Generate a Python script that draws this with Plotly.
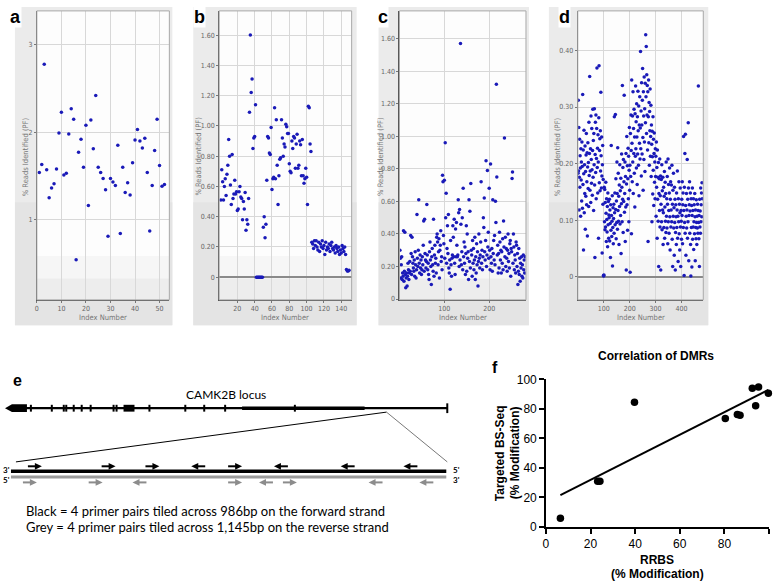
import plotly.graph_objects as go
import numpy as np

W, H = 778, 588

# ---------------- data ----------------
a_pct = [1.54,1.63,2.78,1.57,1.25,1.36,1.41,1.58,1.99,2.23,1.51,1.53,1.98,2.27,2.15,0.54,1.77,1.92,1.60,2.08,
         1.16,2.14,1.81,2.42,1.60,1.54,1.47,1.34,0.81,1.47,1.43,1.39,1.85,0.84,1.60,1.31,1.42,1.28,1.65,1.91,
         2.03,1.90,1.82,1.93,1.54,0.87,1.39,1.79,2.15,1.62,1.38,1.40]
a_index = list(range(1, len(a_pct) + 1))

b_pct = [0.51,0.71,0.63,0.51,0.60,0.65,0.54,0.68,0.74,0.91,0.80,0.61,0.48,0.81,0.52,0.55,0.64,0.55,0.565,0.44,
         0.45,0.565,0.60,0.53,0.52,0.38,0.50,0.45,0.56,0.31,0.38,0.35,0.52,1.09,1.60,1.22,1.31,0.85,0.92,0.93,
         1.14,
         0,0,0,0,0,0,0,0,
         0.33,0.40,0.26,0.35,0.64,0.93,0.92,0.82,0.81,0.99,0.58,0.65,0.66,1.12,0.65,1.04,0.74,0.48,0.67,0.78,
         0.79,1.04,0.92,0.80,0.88,0.86,1.01,0.995,0.95,0.95,0.75,0.70,0.69,0.90,0.85,0.93,0.92,0.72,0.88,0.945,
         0.72,0.74,0.90,0.875,0.67,0.91,0.67,0.62,0.65,0.72,0.66,0.48,1.13,1.12,0.88,0.83,
         0.23,0.22,0.19,0.24,0.21,0.24,0.20,0.18,0.23,0.17,0.22,0.20,0.24,0.19,0.21,0.15,0.23,0.18,0.20,0.19,
         0.22,0.17,0.21,0.23,0.19,0.18,0.20,0.16,0.21,0.19,0.17,0.20,0.15,0.18,0.16,0.21,0.19,0.17,0.20,0.15,
         0.05,0.04,0.04,0.045]
b_index = list(range(1, len(b_pct) + 1))

c_pct = [0.30,0.25,0.13,0.21,0.26,0.12,0.16,0.14,0.42,0.11,0.17,0.41,0.15,0.07,0.13,0.16,0.08,0.14,0.22,0.18,
         0.12,0.16,0.23,0.17,0.39,0.28,0.15,0.38,0.26,0.22,0.19,0.17,0.24,0.14,0.29,0.21,0.13,0.18,0.52,0.25,
         0.20,0.30,0.61,0.22,0.16,0.27,0.19,0.24,0.15,0.18,0.26,0.21,0.33,0.48,0.17,0.49,0.28,0.24,0.19,0.23,
         0.58,0.27,0.18,0.22,0.15,0.12,0.29,0.35,0.24,0.20,0.09,0.26,0.31,0.21,0.17,0.49,0.14,0.27,0.33,0.22,
         0.25,0.16,0.38,0.40,0.35,0.21,0.29,0.37,0.13,0.30,0.33,0.42,0.23,0.26,0.18,0.76,0.72,0.39,0.34,0.73,
         0.25,0.96,0.50,0.65,0.22,0.31,0.45,0.28,0.52,0.19,0.16,0.24,0.06,0.36,0.21,0.14,0.25,0.27,0.45,0.38,
         0.26,0.49,0.22,0.15,0.43,0.26,0.47,0.33,0.26,0.27,0.61,0.53,0.20,0.55,0.24,1.57,0.46,0.21,0.29,0.50,
         0.18,0.68,0.26,0.35,0.22,0.32,0.15,0.28,0.45,0.17,0.40,0.25,0.29,0.12,0.61,0.23,0.54,0.19,0.71,0.30,
         0.27,0.14,0.36,0.22,0.31,0.18,0.24,0.38,0.12,0.26,0.16,0.34,0.21,0.29,0.08,0.23,0.40,0.25,0.19,0.27,
         0.35,0.72,0.22,0.30,0.18,0.26,0.50,0.44,0.62,0.29,0.24,0.36,0.85,0.20,0.27,0.79,0.32,0.41,0.25,0.68,
         0.30,0.18,0.83,0.26,0.22,0.31,0.17,0.61,0.28,0.36,0.24,0.39,0.21,0.60,0.47,1.32,0.75,0.27,0.33,0.16,
         0.28,0.19,0.41,0.35,0.24,0.30,0.16,0.29,0.22,0.37,0.18,0.48,0.32,0.99,0.26,0.38,0.20,0.31,0.25,0.17,
         0.30,0.40,0.23,0.28,0.19,0.34,0.36,0.14,0.31,0.29,0.74,0.78,0.22,0.40,0.32,0.18,0.27,0.24,0.16,0.35,
         0.33,0.20,0.28,0.09,0.17,0.31,0.15,0.25,0.11,0.22,0.19,0.26,0.14,0.21,0.13,0.27,0.18,0.24,0.16,0.26]
c_index = list(range(1, len(c_pct) + 1))

d_pct = [0.183,0.312,0.187,0.264,0.118,0.176,0.243,0.158,0.214,0.192,0.107,0.226,0.171,0.203,0.134,0.238,0.195,0.121,0.322,0.163,
         0.224,0.047,0.182,0.259,0.113,0.198,0.147,0.231,0.084,0.186,0.142,0.215,0.253,0.127,0.168,0.219,0.072,0.194,0.237,0.156,
         0.202,0.124,0.273,0.179,0.218,0.354,0.153,0.187,0.226,0.131,0.284,0.207,0.165,0.262,0.189,0.144,0.223,0.296,0.176,0.241,
         0.117,0.253,0.198,0.297,0.162,0.034,0.216,0.273,0.184,0.286,0.138,0.209,0.262,0.369,0.193,0.227,0.148,0.251,0.203,0.068,
         0.281,0.373,0.166,0.223,0.244,0.152,0.258,0.187,0.326,0.214,0.157,0.247,0.178,0.042,0.198,0.232,0.128,0.172,0.002,0.001,
         0.003,0.158,0.097,0.154,0.083,0.131,0.088,0.167,0.112,0.062,0.138,0.101,0.079,0.124,0.053,0.148,0.092,0.133,0.068,0.109,
         0.104,0.137,0.063,0.118,0.094,0.034,0.127,0.082,0.232,0.108,0.071,0.098,0.143,0.019,0.087,0.122,0.058,0.103,0.128,0.077,
         0.283,0.113,0.148,0.092,0.287,0.119,0.173,0.067,0.134,0.096,0.203,0.147,0.084,0.228,0.117,0.183,0.098,0.142,0.057,0.162,
         0.124,0.198,0.093,0.152,0.108,0.174,0.041,0.129,0.217,0.158,0.097,0.338,0.137,0.193,0.078,0.207,0.133,0.168,0.321,0.114,
         0.147,0.203,0.062,0.177,0.123,0.218,0.012,0.164,0.248,0.127,0.196,0.082,0.173,0.227,0.138,0.213,0.097,0.188,0.264,0.153,
         0.197,0.008,0.253,0.177,0.286,0.223,0.076,0.348,0.236,0.168,0.284,0.203,0.327,0.147,0.262,0.218,0.296,0.183,0.247,0.123,
         0.288,0.213,0.337,0.226,0.274,0.192,0.306,0.247,0.163,0.283,0.217,0.328,0.258,0.197,0.302,0.143,0.268,0.236,0.318,0.208,
         0.263,0.398,0.226,0.293,0.178,0.343,0.268,0.217,0.312,0.368,0.246,0.153,0.327,0.284,0.207,0.353,0.238,0.297,0.186,0.342,
         0.272,0.428,0.318,0.407,0.253,0.357,0.286,0.338,0.224,0.327,0.062,0.283,0.348,0.237,0.308,0.197,0.292,0.258,0.332,0.213,
         0.248,0.303,0.177,0.268,0.234,0.097,0.257,0.212,0.146,0.283,0.188,0.243,0.126,0.218,0.254,0.167,0.203,0.138,0.226,0.177,
         0.213,0.107,0.238,0.158,0.193,0.068,0.224,0.137,0.176,0.098,0.202,0.018,0.147,0.173,0.117,0.208,0.088,0.143,0.178,0.012,
         0.128,0.172,0.097,0.198,0.083,0.152,0.118,0.176,0.057,0.113,0.158,0.087,0.142,0.186,0.068,0.123,0.167,0.098,0.147,0.078,
         0.203,0.107,0.138,0.086,0.177,0.128,0.058,0.208,0.097,0.163,0.117,0.077,0.148,0.192,0.106,0.047,0.137,0.168,0.088,0.118,
         0.162,0.097,0.197,0.066,0.128,0.018,0.153,0.107,0.183,0.086,0.122,0.038,0.158,0.096,0.137,0.012,0.078,0.127,0.106,0.057,
         0.148,0.087,0.118,0.187,0.068,0.107,0.027,0.138,0.097,0.168,0.076,0.128,0.047,0.113,0.157,0.088,0.018,0.117,0.098,0.066,
         0.137,0.108,0.168,0.058,0.127,0.148,0.087,0.248,0.117,0.002,0.158,0.096,0.218,0.077,0.252,0.126,0.038,0.107,0.147,0.086,
         0.118,0.207,0.068,0.137,0.097,0.272,0.157,0.028,0.108,0.127,0.168,0.077,0.116,0.148,0.057,0.001,0.138,0.087,0.126,0.017,
         0.108,0.157,0.066,0.117,0.088,0.138,0.048,0.097,0.127,0.076,0.147,0.106,0.028,0.118,0.087,0.067,0.136,0.096,0.057,0.107,
         0.086,0.128,0.077,0.117,0.337,0.096,0.067,0.108,0.018,0.137,0.088,0.116,0.077,0.157,0.097,0.127,0.148,0.106,0.166,0.138]
d_index = list(range(1, len(d_pct) + 1))

a_xticks = [0, 10, 20, 30, 40, 50]
a_yticks = [1, 2, 3]
a_ylabels = ["1", "2", "3"]
b_xticks = [20, 40, 60, 80, 100, 120, 140]
bc_yticks = [0, 0.2, 0.4, 0.6, 0.8, 1.0, 1.2, 1.4, 1.6]
bc_ylabels = ["0", "0.20", "0.40", "0.60", "0.80", "1.00", "1.20", "1.40", "1.60"]
c_xticks = [100, 200]
d_xticks = [100, 200, 300, 400]
d_yticks = [0, 0.1, 0.2, 0.3, 0.4]
d_ylabels = ["0", "0.10", "0.20", "0.30", "0.40"]

f_rrbs = [6.5, 23.2, 24.2, 39.7, 80.4, 85.8, 87.0, 92.5, 94.0, 95.3, 99.7]
f_targeted = [6.0, 31.0, 31.0, 84.5, 73.5, 76.3, 75.8, 94.0, 82.2, 94.8, 90.6]
f_ticks = [0, 20, 40, 60, 80, 100]

locus_title = "CAMK2B locus"
legend_lines = ["Black = 4 primer pairs tiled across 986bp on the forward strand",
                "Grey = 4 primer pairs tiled across 1,145bp on the reverse strand"]
black_primer_dirs = ["r", "r", "r", "l", "r", "l", "l", "l"]
grey_primer_dirs = ["r", "r", "l", "r", "l", "r", "l", "l"]

# ---------------- layout helpers ----------------
def px(x):
    return x / W

def py(y):
    return 1 - y / H

shapes = []
annotations = []

def rect(x0, y0, x1, y1, fill, layer="below", lc=None, lw=0):
    shapes.append(dict(type="rect", xref="paper", yref="paper", x0=px(x0), x1=px(x1),
                       y0=py(y1), y1=py(y0), fillcolor=fill,
                       line=dict(width=lw, color=lc or "rgba(0,0,0,0)"), layer=layer))

def seg(x0, y0, x1, y1, color, width):
    shapes.append(dict(type="line", xref="paper", yref="paper", x0=px(x0), y0=py(y0),
                       x1=px(x1), y1=py(y1), line=dict(color=color, width=width)))

def poly(points, fill):
    p = "M " + " L ".join(f"{px(x):.5f},{py(y):.5f}" for x, y in points) + " Z"
    shapes.append(dict(type="path", xref="paper", yref="paper", path=p,
                       fillcolor=fill, line=dict(width=0)))

def text(x, y, s, size, color="black", family="Liberation Sans", bold=False,
         xanchor="center", angle=0, bg=None):
    annotations.append(dict(xref="paper", yref="paper", x=px(x), y=py(y), text=(f"<b>{s}</b>" if bold else s),
                            showarrow=False, xanchor=xanchor, yanchor="middle", textangle=angle,
                            font=dict(size=size, color=color, family=family),
                            bgcolor=bg, borderpad=0))

fig = go.Figure()
small = "DejaVu Sans Condensed, Liberation Sans Narrow, Liberation Sans"
blue = "#1a1ab8"

tops = [
    dict(x=a_index, y=a_pct, dom=(34, 167), xr=[0, 54], yr=[0.08, 3.39], xt=a_xticks,
         yt=a_yticks, yl=a_ylabels, zero=False, bg=(12, 170), lab=("a", 13), ytx=22),
    dict(x=b_index, y=b_pct, dom=(217, 350), xr=[-1, 152], yr=[-0.15, 1.76], xt=b_xticks,
         yt=bc_yticks, yl=bc_ylabels, zero=True, bg=(191, 355), lab=("b", 197), ytx=196),
    dict(x=c_index, y=c_pct, dom=(398, 525), xr=[0, 282], yr=[-0.005, 1.77], xt=c_xticks,
         yt=bc_yticks, yl=bc_ylabels, zero=False, bg=(377, 528), lab=("c", 381), ytx=379),
    dict(x=d_index, y=d_pct, dom=(577, 703), xr=[0, 484], yr=[-0.041, 0.47], xt=d_xticks,
         yt=d_yticks, yl=d_ylabels, zero=True, bg=(548, 708), lab=("d", 564), ytx=557),
]
TOP, BOT = 4, 300
for i, p in enumerate(tops, start=1):
    l, r = p["dom"]
    rect(p["bg"][0], 0, p["bg"][1], 326, "#ebebeb")
    rect(p["bg"][0], 200, p["bg"][1], 326, "#e4e4e4")
    rect(l, TOP, r, BOT, "#fdfdfd")
    rect(l, BOT - 45, r, BOT, "#f6f6f6")
    rect(l, BOT - 22, r, BOT, "#ededed")
    rect(l, TOP, r, BOT, "rgba(0,0,0,0)", layer="above", lc="#a8a8a8", lw=1)
    fig.add_trace(go.Scatter(x=p["x"], y=p["y"], mode="markers",
                             marker=dict(color=blue, size=3.5, line=dict(width=0)),
                             xaxis=f"x{i}", yaxis=f"y{i}", showlegend=False, hoverinfo="skip"))
    fig.layout[f"xaxis{i}"] = dict(domain=[px(l), px(r)], range=p["xr"], anchor=f"y{i}",
                                   tickvals=p["xt"], showgrid=True, gridcolor="#d8d8d8", gridwidth=1,
                                   zeroline=False, showline=True, linecolor="#555555", linewidth=1,
                                   ticks="outside", ticklen=2, tickcolor="#777777",
                                   tickfont=dict(size=7, color="#666666", family=small))
    fig.layout[f"yaxis{i}"] = dict(domain=[py(BOT), py(TOP)], range=p["yr"], anchor=f"x{i}",
                                   tickvals=p["yt"], ticktext=p["yl"], showgrid=True, gridcolor="#d8d8d8",
                                   gridwidth=1, zeroline=p["zero"], zerolinecolor="#8a8a8a", zerolinewidth=2,
                                   showline=True, linecolor="#555555", linewidth=1,
                                   ticks="outside", ticklen=2, tickcolor="#777777",
                                   tickfont=dict(size=7, color="#666666", family=small))
    text((l + r) / 2, 318, "Index Number", 7.5, color="#777777", family=small)
    text(p["ytx"], 153, "% Reads Identified (PF)", 7.5, color="#777777", family=small, angle=-90)
    text(p["lab"][1], 10, p["lab"][0], 18, bold=True, family="Liberation Sans", bg="white")

# ---------------- panel e (diagram) ----------------
text(15, 383, "e", 16, bold=True)
text(224, 397, locus_title, 12, family="Lato")
seg(5, 411, 446, 411, "black", 2.2)
seg(240, 411, 363, 411, "black", 3.5)
poly([(2, 411), (9, 407), (24, 407), (24, 415), (9, 415)], "black")
for xe in [28, 49, 61, 63.5, 71, 79, 88, 111, 114, 147, 183, 202, 223, 293]:
    seg(xe, 407.5, xe, 414.5, "black", 2)
poly([(121, 407.5), (132, 407.5), (132, 414.5), (121, 414.5)], "black")
seg(446, 406, 446, 416, "black", 2)
seg(13, 466, 385, 415, "black", 1)
seg(385, 415, 446, 466, "#555555", 0.8)
seg(8, 475.5, 445, 475.5, "black", 3.5)
seg(8, 481.5, 445, 481.5, "#9a9a9a", 3)
text(4, 474, "3'", 8, bold=True, family="Lato")
text(4, 485, "5'", 8, bold=True, family="Lato")
text(455, 474, "5'", 8, bold=True, family="Lato")
text(455, 485, "3'", 8, bold=True, family="Lato")

def arrow(x0, y, d, color, length=14, hl=7, hw=3.5):
    x1 = x0 + length
    if d == "r":
        seg(x0, y, x1 - hl + 1, y, color, 2)
        poly([(x1 - hl, y - hw), (x1, y), (x1 - hl, y + hw)], color)
    else:
        seg(x0 + hl - 1, y, x1, y, color, 2)
        poly([(x0 + hl, y - hw), (x0, y), (x0 + hl, y + hw)], color)

black_arrow_x = [25, 99, 143, 189, 226, 272, 339, 402]
grey_arrow_x = [20, 86, 130, 226, 257, 281, 367, 418]
for xa, d in zip(black_arrow_x, black_primer_dirs):
    arrow(xa, 470.5, d, "black")
for xa, d in zip(grey_arrow_x, grey_primer_dirs):
    arrow(xa, 487, d, "#8c8c8c")
text(22, 516, legend_lines[0], 13, family="Lato", xanchor="left")
text(22, 533, legend_lines[1], 13, family="Lato", xanchor="left")

# ---------------- panel f ----------------
slope, intercept = np.polyfit(f_rrbs, f_targeted, 1)
fx = np.array([min(f_rrbs), max(f_rrbs)])
fig.add_trace(go.Scatter(x=fx, y=slope * fx + intercept, mode="lines", line=dict(color="black", width=2),
                         xaxis="x5", yaxis="y5", showlegend=False, hoverinfo="skip"))
fig.add_trace(go.Scatter(x=f_rrbs, y=f_targeted, mode="markers", marker=dict(color="black", size=7.5),
                         xaxis="x5", yaxis="y5", showlegend=False, cliponaxis=False, hoverinfo="skip"))
bold_font = dict(size=12, color="black", family="Liberation Sans")
fig.layout["xaxis5"] = dict(domain=[px(545), px(769)], range=[0, 100], anchor="y5", tickvals=f_ticks,
                            showgrid=False, zeroline=False, showline=True, linecolor="black", linewidth=1.5,
                            ticks="outside", ticklen=5, tickwidth=1.5, tickcolor="black",
                            tickfont=bold_font, tickprefix="<b>", ticksuffix="</b>")
fig.layout["yaxis5"] = dict(domain=[py(532.7), py(381.5)], range=[0, 100], anchor="x5", tickvals=f_ticks,
                            showgrid=False, zeroline=False, showline=True, linecolor="black", linewidth=1.5,
                            ticks="outside", ticklen=5, tickwidth=1.5, tickcolor="black",
                            tickfont=bold_font, tickprefix="<b>", ticksuffix="</b>")
text(494, 369, "f", 16, bold=True)
text(656, 358, "Correlation of DMRs", 12, bold=True)
text(657, 566, "RRBS", 12, bold=True)
text(657, 581, "(% Modification)", 12, bold=True)
text(499, 457, "Targeted BS-Seq", 12, bold=True, angle=-90)
text(514, 457, "(% Modification)", 12, bold=True, angle=-90)

fig.update_layout(width=W, height=H, margin=dict(l=0, r=0, t=0, b=0), autosize=False,
                  paper_bgcolor="white", plot_bgcolor="rgba(0,0,0,0)",
                  shapes=shapes, annotations=annotations, showlegend=False)
fig.write_html("out.html", config={"displayModeBar": False},
               post_script="document.body.style.margin='0px';")
